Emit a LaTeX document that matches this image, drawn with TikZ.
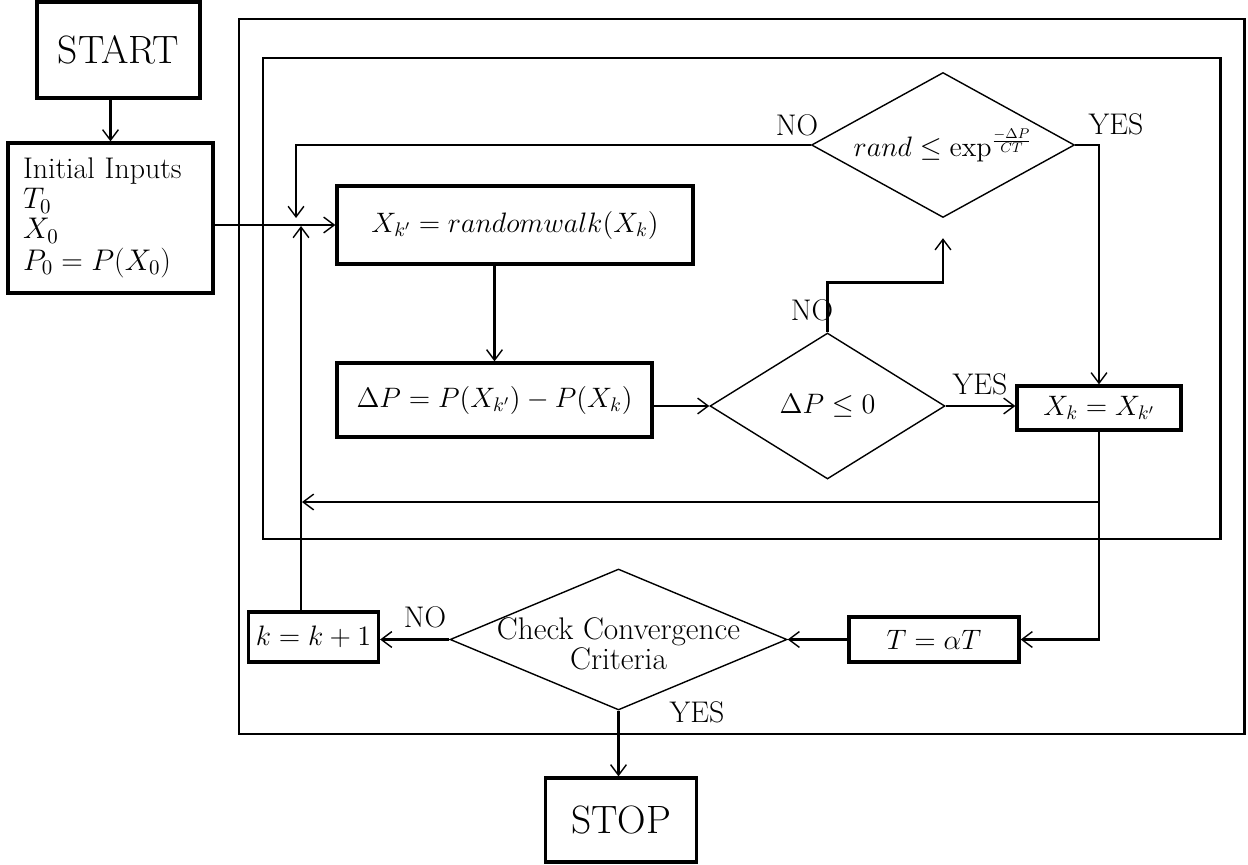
\RequirePackage{fix-cm}
\documentclass[tikz,border=0pt]{standalone}
\usepackage{tikz}
\usetikzlibrary{shapes.geometric,arrows.meta}
\usepackage{amsmath}

\begin{document}
\begin{tikzpicture}[x=0.02cm,y=-0.02cm,
  >={Straight Barb[length=6pt,width=9pt,line width=0.8pt]},
  blk/.style={draw,line width=1.9pt,align=center,inner sep=2pt,
              font=\fontsize{16}{19}\selectfont},
  term/.style={blk,font=\fontsize{22.5}{26}\selectfont},
  dec/.style={draw,diamond,line width=0.8pt,inner sep=0pt,
              font=\fontsize{16}{19}\selectfont},
  conn/.style={line width=1.4pt},
  thinconn/.style={line width=0.7pt},
  lbl/.style={inner sep=0pt,font=\fontsize{17}{20}\selectfont},
  frame/.style={line width=1.7pt},
]
\useasboundingbox (0,0) rectangle (1248,865);

% loop frames
\draw[frame] (239,19) rectangle (1244,734);
\draw[frame] (263,58) rectangle (1220,539);

\node[term,minimum width=3.26cm,minimum height=1.92cm] (start) at (118.5,50) {START};
\node[blk,minimum width=4.1cm,minimum height=3cm,text width=3.5cm,align=left,
      font=\fontsize{17}{20}\selectfont] (init) at (110.5,218)
  {Initial Inputs\\[-3pt]$T_0$\\[-3pt]$X_0$\\[-2pt]$P_0=P(X_0)$};
\node[blk,minimum width=7.12cm,minimum height=1.56cm] (walk) at (515,225) {$X_{k'} = randomwalk(X_k)$};
\node[blk,minimum width=6.3cm,minimum height=1.48cm] (diff) at (494.5,400) {$\Delta P = P(X_{k'}) - P(X_k)$};
\node[dec,minimum width=4.7cm,minimum height=2.92cm] (neg) at (827.5,406) {\makebox[0pt]{$\Delta P \le 0$}};
\node[dec,minimum width=5.26cm,minimum height=2.9cm] (accept) at (943,145)
  {\makebox[0pt]{$rand \le \exp^{\frac{-\Delta P}{CT}}$}};
\node[blk,minimum width=3.28cm,minimum height=0.88cm] (keep) at (1099,408) {$X_k = X_{k'}$};
\node[blk,minimum width=3.4cm,minimum height=0.9cm] (cool) at (934,639.5) {$T = \alpha T$};
\node[dec,minimum width=6.74cm,minimum height=2.82cm,font=\fontsize{17.8}{21}\selectfont] (conv) at (618.5,639.5)
  {\makebox[0pt]{\raisebox{-9pt}[0pt][0pt]{\begin{tabular}{@{}c@{}}Check Convergence\\[-4pt]Criteria\end{tabular}}}};
\node[blk,minimum width=2.6cm,minimum height=1cm] (incr) at (313.5,637) {$k = k+1$};
\node[term,minimum width=3.02cm,minimum height=1.68cm] (stop) at (621,820) {STOP};

\coordinate (joinA) at (296,218);
\coordinate (joinB) at (301,226);
\coordinate (back) at (302,502);

\draw[conn,->] (init.north |- start.south) -- (init.north);
\draw[conn,->] (init.east |- walk.west) -- (walk.west);
\draw[conn,->] (walk.south -| diff.north) -- (diff.north);
\draw[conn,->] (diff.east |- neg.west) -- (neg.west);
\draw[conn,->] (neg.east) -- (neg.east -| keep.west);
\draw[conn,->,shorten >=0.4cm] (neg.north) -- ++(0,-50) -| (accept.south);
\draw[thinconn,->] (accept.west) -| (joinA);
\draw[conn,->] (accept.east) -| (keep.north);
\draw[conn,->] (keep.south) |- (cool.east);
\draw[conn,->] (keep.south |- back) -- (back);
\draw[conn,->] (cool.west) -- (conv.east);
\draw[conn,->] (conv.west) -- (conv.west -| incr.east);
\draw[conn,->] (joinB |- incr.north) -- (joinB);
\draw[conn,->] (conv.south) -- (conv.south |- stop.north);

\node[lbl] (noA) at (797,125) {NO};
\node[lbl] (yesA) at (1116,124) {YES};
\node[lbl] (noB) at (812,310) {NO};
\node[lbl] (yesB) at (980,384) {YES};
\node[lbl] (noC) at (425,617) {NO};
\node[lbl] (yesC) at (697,712) {YES};
\end{tikzpicture}
\end{document}
